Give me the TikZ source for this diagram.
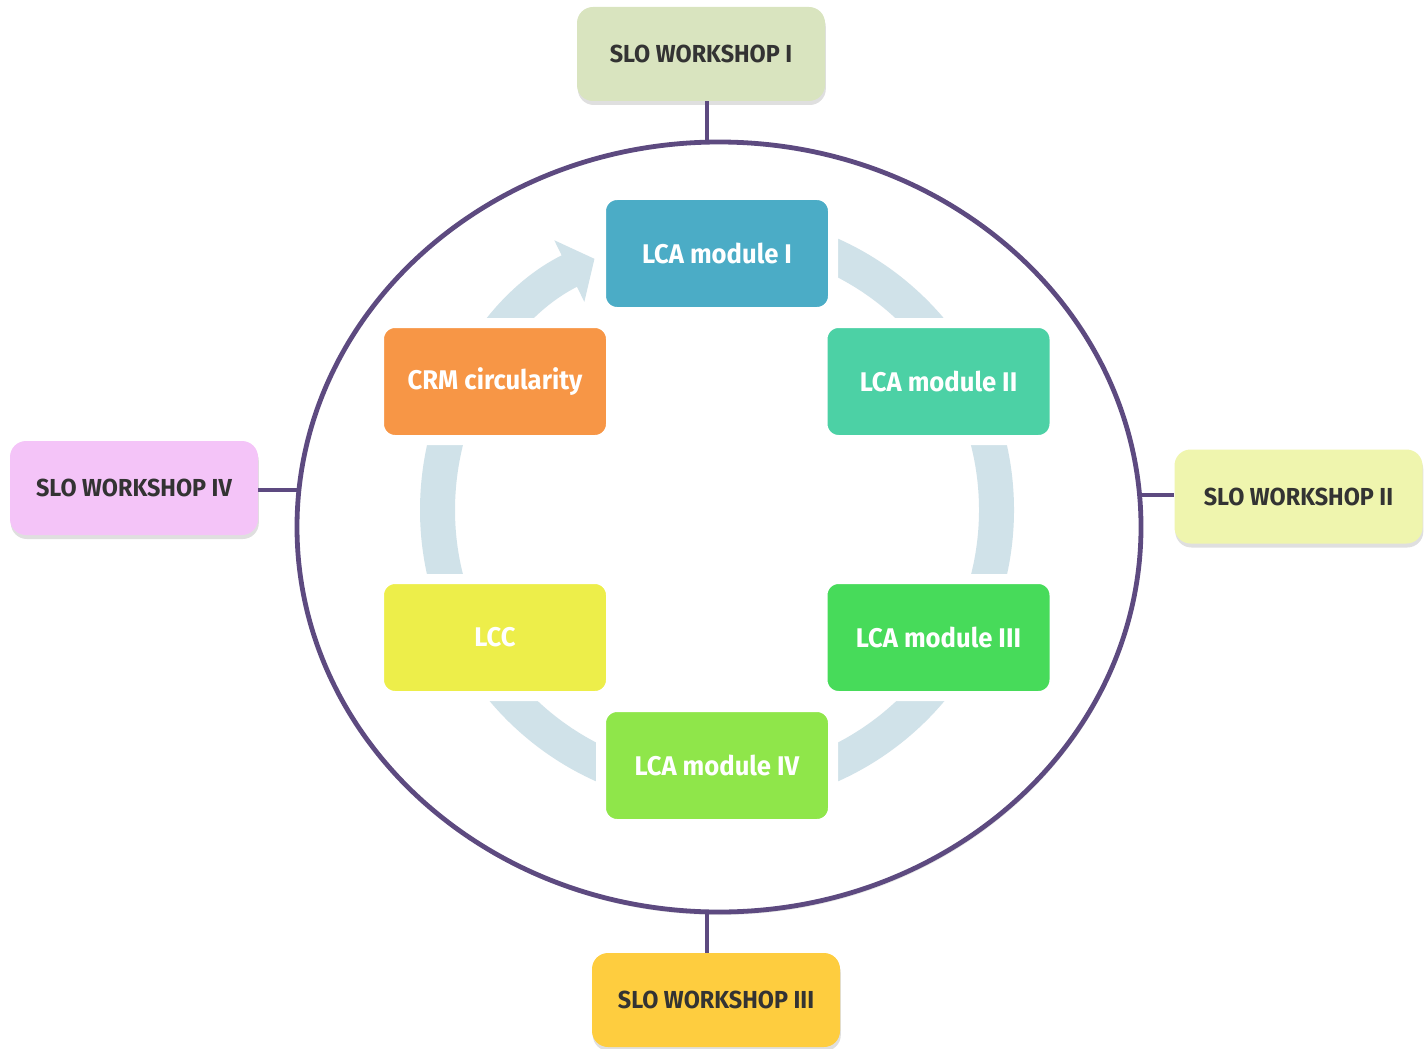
\documentclass[tikz,border=0pt]{standalone}
\usepackage{fontspec}
\newfontfamily\labfont{Fira Sans}[FakeStretch=0.95]
\usetikzlibrary{arrows.meta,shadows}
\definecolor{purp}{HTML}{5D4A80}
\definecolor{ringc}{HTML}{D0E2E9}
\definecolor{cmone}{HTML}{4BACC6}
\definecolor{ccrm}{HTML}{F79646}
\definecolor{cmtwo}{HTML}{4CD1A5}
\definecolor{clcc}{HTML}{EDEE4A}
\definecolor{cmthree}{HTML}{47DB5A}
\definecolor{cmfour}{HTML}{8FE64A}
\definecolor{cwone}{HTML}{D9E4BF}
\definecolor{cwtwo}{HTML}{EFF5AE}
\definecolor{cwthree}{HTML}{FECD3F}
\definecolor{cwfour}{HTML}{F4C4F8}
\definecolor{darktext}{HTML}{333333}
\begin{document}
\begin{tikzpicture}[x=0.5pt,y=-0.5pt,
  modbox/.style={draw=white, line width=5pt, rounded corners=8pt,
    minimum width=116pt, minimum height=58.5pt, inner sep=0pt,
    text=white, font=\labfont\bfseries\fontsize{13.5}{15}\selectfont},
  wsbox/.style={rounded corners=8pt, minimum width=124pt, minimum height=47pt,
    inner sep=0pt, text=darktext,
    font=\labfont\bfseries\fontsize{12.3}{14}\selectfont,
    drop shadow={opacity=0.25, shadow xshift=0.4pt, shadow yshift=-2pt}},
  conn/.style={draw=purp, line width=2.4pt},
  ringline/.style={draw=ringc, line width=17.5pt,
    -{Triangle[width=33.5pt,length=14pt]}}]
\useasboundingbox (0,0) rectangle (1427,1048);
% outer ellipse
\path[draw=purp, line width=2.4pt, fill=white,
  drop shadow={opacity=0.2, shadow xshift=0.6pt, shadow yshift=-1.5pt}]
  (719,527) ellipse [x radius=211pt, y radius=192.5pt];
% points on the ellipse
\coordinate (e1) at (707,142.2);
\coordinate (e2) at (1139.5,495);
\coordinate (e3) at (707,911.8);
\coordinate (e4) at (299,490);
% cycle ring
\draw[ringline] (717,510) ++(-90:279.5) arc[start angle=-90, end angle=244, radius=279.5];
% modules
\node[modbox, fill=cmone]   (m1)  at (717,253.5) {LCA module I};
\node[modbox, fill=ccrm]    (crm) at (495,381.5) {CRM circularity};
\node[modbox, fill=cmtwo]   (m2)  at (938.5,381.5) {LCA module II};
\node[modbox, fill=clcc]    (lcc) at (495,637.5) {LCC};
\node[modbox, fill=cmthree] (m3)  at (938.5,637.5) {LCA module III};
\node[modbox, fill=cmfour]  (m4)  at (717,765.5) {LCA module IV};
% workshops
\node[wsbox, fill=cwone]   (w1) at (701,54) {SLO WORKSHOP I};
\node[wsbox, fill=cwtwo]   (w2) at (1298.5,496.5) {SLO WORKSHOP II};
\node[wsbox, fill=cwthree] (w3) at (716,1000) {SLO WORKSHOP III};
\node[wsbox, fill=cwfour]  (w4) at (134,488) {SLO WORKSHOP IV};
% connectors
\draw[conn] (w1.south -| e1) -- (e1);
\draw[conn] (w2.west |- e2) -- (e2);
\draw[conn] (w3.north -| e3) -- (e3);
\draw[conn] (w4.east |- e4) -- (e4);
\end{tikzpicture}
\end{document}
